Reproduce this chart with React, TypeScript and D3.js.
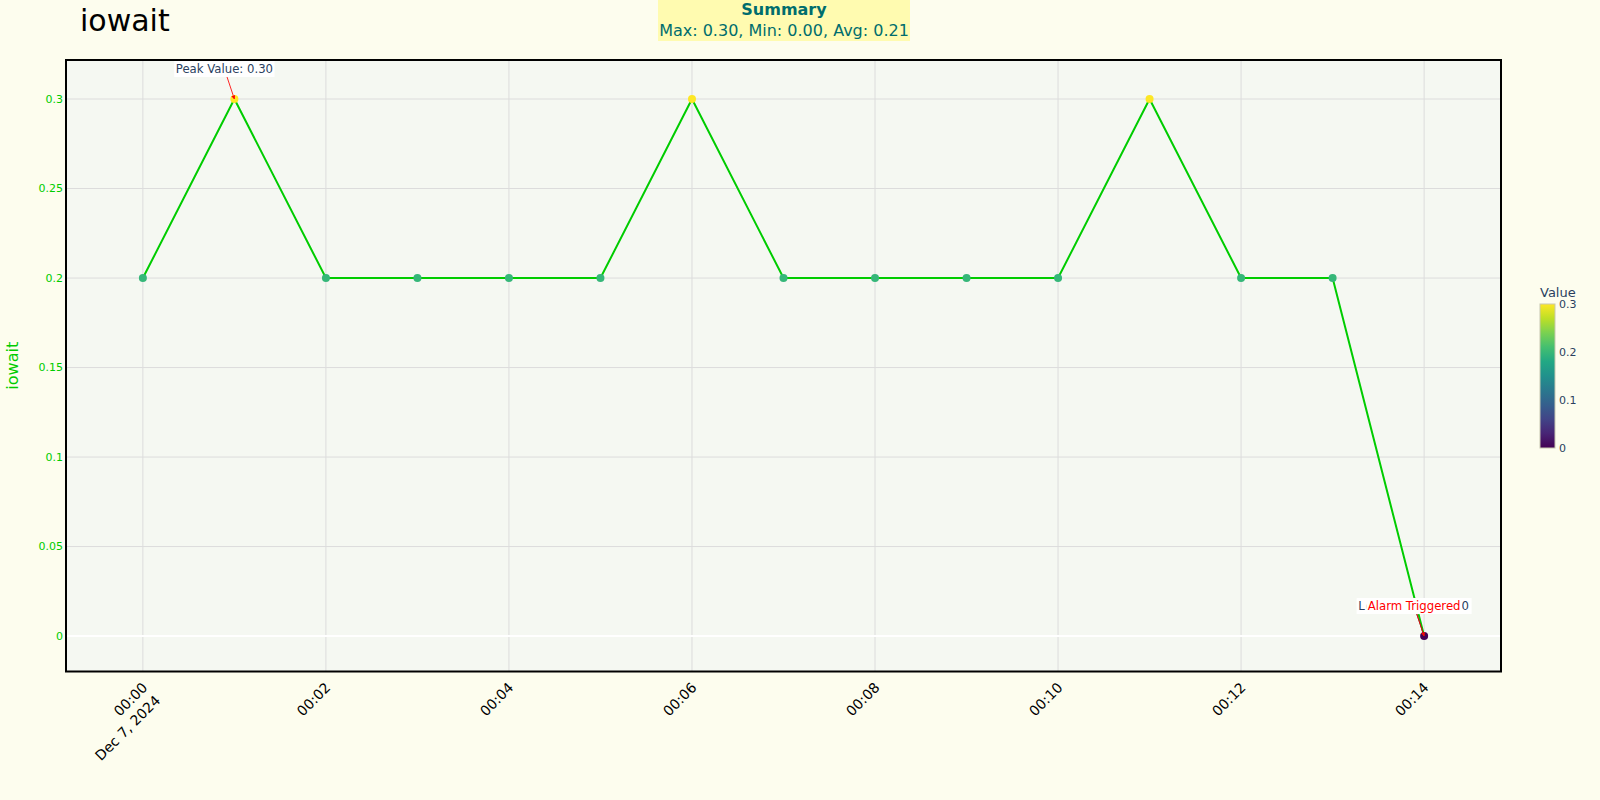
import { useEffect, useRef } from "react";
import * as d3 from "d3";

const width = 1600;
const height = 800;
const margin = { top: 60, right: 99, bottom: 128.5, left: 66 };

// one sample per minute starting Dec 7, 2024 00:00
const minutes = [0, 1, 2, 3, 4, 5, 6, 7, 8, 9, 10, 11, 12, 13, 14];
const values = [0.2, 0.3, 0.2, 0.2, 0.2, 0.2, 0.3, 0.2, 0.2, 0.2, 0.2, 0.3, 0.2, 0.2, 0.0];
const yTicks = [0, 0.05, 0.1, 0.15, 0.2, 0.25, 0.3];
const colorTicks = [0, 0.1, 0.2, 0.3];
const summaryLines = ["Summary", "Max: 0.30, Min: 0.00, Avg: 0.21"];

const start = new Date(2024, 11, 7, 0, 0, 0);
const font = "'DejaVu Sans', sans-serif";
const lineColor = "#00cc00";
const textDark = "#2a3f5f";

const App = () => {
  const ref = useRef<SVGSVGElement>(null);

  useEffect(() => {
    const svg = d3.select(ref.current);
    svg.selectAll("*").remove();

    const data = minutes.map((m, i) => ({ date: d3.timeMinute.offset(start, m), value: values[i] }));

    const x0 = margin.left;
    const x1 = width - margin.right;
    const y0 = margin.top;
    const y1 = height - margin.bottom;

    const xScale = d3
      .scaleTime()
      .domain([new Date(start.getTime() - 0.84 * 60000), new Date(start.getTime() + 14.84 * 60000)])
      .range([x0, x1]);
    const yScale = d3.scaleLinear().domain([-0.0198, 0.3218]).range([y1, y0]);
    const color = d3.scaleSequential(d3.interpolateViridis).domain([0, 0.3]);

    svg.append("rect").attr("width", width).attr("height", height).attr("fill", "#fdfdee");

    const defs = svg.append("defs");
    defs
      .append("clipPath")
      .attr("id", "plotClip")
      .append("rect")
      .attr("x", x0)
      .attr("y", y0)
      .attr("width", x1 - x0)
      .attr("height", y1 - y0);

    const grad = defs
      .append("linearGradient")
      .attr("id", "viridisGrad")
      .attr("x1", 0)
      .attr("y1", 1)
      .attr("x2", 0)
      .attr("y2", 0);
    d3.range(0, 1.0001, 0.1).forEach((t) => {
      grad.append("stop").attr("offset", t).attr("stop-color", d3.interpolateViridis(t));
    });

    ["red", "dark"].forEach((k) => {
      defs
        .append("marker")
        .attr("id", "arrow-" + k)
        .attr("viewBox", "0 0 10 10")
        .attr("refX", 9)
        .attr("refY", 5)
        .attr("markerWidth", 4)
        .attr("markerHeight", 4)
        .attr("orient", "auto")
        .append("path")
        .attr("d", "M0,0 L10,5 L0,10 z")
        .attr("fill", k === "red" ? "red" : "#444");
    });

    // plot background
    svg.append("rect").attr("x", x0).attr("y", y0).attr("width", x1 - x0).attr("height", y1 - y0).attr("fill", "#f5f8f2");

    const grid = svg.append("g").attr("clip-path", "url(#plotClip)");
    const xTicks = xScale.ticks(d3.timeMinute.every(2));
    grid
      .selectAll(".vg")
      .data(xTicks)
      .join("line")
      .attr("x1", (d) => xScale(d))
      .attr("x2", (d) => xScale(d))
      .attr("y1", y0)
      .attr("y2", y1)
      .attr("stroke", "#dcdcdc")
      .attr("stroke-width", 1);
    grid
      .selectAll(".hg")
      .data(yTicks.filter((d) => d !== 0))
      .join("line")
      .attr("x1", x0)
      .attr("x2", x1)
      .attr("y1", (d) => yScale(d))
      .attr("y2", (d) => yScale(d))
      .attr("stroke", "#dcdcdc")
      .attr("stroke-width", 1);
    grid
      .append("line")
      .attr("x1", x0)
      .attr("x2", x1)
      .attr("y1", yScale(0))
      .attr("y2", yScale(0))
      .attr("stroke", "#ffffff")
      .attr("stroke-width", 2);

    // line + markers
    const line = d3
      .line<{ date: Date; value: number }>()
      .x((d) => xScale(d.date))
      .y((d) => yScale(d.value));
    const plot = svg.append("g").attr("clip-path", "url(#plotClip)");
    plot.append("path").datum(data).attr("d", line).attr("fill", "none").attr("stroke", lineColor).attr("stroke-width", 2);
    plot
      .selectAll("circle")
      .data(data)
      .join("circle")
      .attr("cx", (d) => xScale(d.date))
      .attr("cy", (d) => yScale(d.value))
      .attr("r", 4)
      .attr("fill", (d) => color(d.value));

    // border
    svg
      .append("rect")
      .attr("x", x0)
      .attr("y", y0)
      .attr("width", x1 - x0)
      .attr("height", y1 - y0)
      .attr("fill", "none")
      .attr("stroke", "#000")
      .attr("stroke-width", 2);

    // y ticks
    svg
      .append("g")
      .selectAll("text")
      .data(yTicks)
      .join("text")
      .attr("x", x0 - 3)
      .attr("y", (d) => yScale(d))
      .attr("dy", "0.35em")
      .attr("text-anchor", "end")
      .attr("font-family", font)
      .attr("font-size", 11)
      .attr("fill", lineColor)
      .text((d) => d3.format("~g")(d));

    svg
      .append("text")
      .attr("transform", `translate(18, ${(y0 + y1) / 2}) rotate(-90)`)
      .attr("text-anchor", "middle")
      .attr("font-family", font)
      .attr("font-size", 16)
      .attr("fill", lineColor)
      .text("iowait");

    // x ticks
    const fmt = d3.timeFormat("%H:%M");
    const xt = svg
      .append("g")
      .selectAll("text")
      .data(xTicks)
      .join("text")
      .attr("transform", (d) => `translate(${xScale(d) + 2}, 685) rotate(-45)`)
      .attr("text-anchor", "end")
      .attr("font-family", font)
      .attr("font-size", 14)
      .attr("fill", "#000");
    xt.append("tspan").attr("x", 0).attr("dy", "0.35em").text((d) => fmt(d));
    xt.filter((d, i) => i === 0)
      .append("tspan")
      .attr("x", 0)
      .attr("dy", "1.3em")
      .text("Dec 7, 2024");

    // annotations
    const annotate = (
      d: { date: Date; value: number },
      label: string,
      fg: string,
      arrow: string,
      spacing: number
    ) => {
      const px = xScale(d.date);
      const py = yScale(d.value);
      const cx = px - 10;
      const cy = py - 30;
      const g = svg.append("g");
      const t = g
        .append("text")
        .attr("x", cx)
        .attr("y", cy)
        .attr("dy", "0.35em")
        .attr("text-anchor", "middle")
        .attr("font-family", font)
        .attr("font-size", 11.7)
        .attr("letter-spacing", spacing)
        .attr("fill", fg)
        .text(label);
      const bb = (t.node() as SVGTextElement).getBBox();
      g.insert("rect", "text")
        .attr("x", bb.x - 1.5)
        .attr("y", cy - 8)
        .attr("width", bb.width + 3)
        .attr("height", 16)
        .attr("fill", "#fff");
      const bottom = cy + 8;
      const frac = (bottom - cy) / (py - cy);
      svg
        .append("line")
        .attr("x1", cx + (px - cx) * frac)
        .attr("y1", bottom)
        .attr("x2", px)
        .attr("y2", py)
        .attr("stroke", arrow === "red" ? "red" : "#444")
        .attr("stroke-opacity", arrow === "red" ? 0.85 : 1)
        .attr("stroke-width", 1)
        .attr("marker-end", `url(#arrow-${arrow})`);
    };

    const maxV = d3.max(values) as number;
    const peak = data.find((d) => d.value === maxV)!;
    const low = data[data.length - 1];
    annotate(peak, `Peak Value: ${maxV.toFixed(2)}`, textDark, "red", 0);
    annotate(low, `Low Value: ${low.value.toFixed(2)}`, textDark, "dark", 1.3);
    annotate(low, "Alarm Triggered", "red", "red", 0);

    // title
    svg
      .append("text")
      .attr("x", 80)
      .attr("y", 31)
      .attr("font-family", font)
      .attr("font-size", 30)
      .attr("fill", "#000")
      .text("iowait");

    // summary box
    const sg = svg.append("g");
    sg.append("rect").attr("x", 658).attr("y", 0).attr("width", 252).attr("height", 41).attr("fill", "#fffbb0");
    sg.selectAll("text")
      .data(summaryLines)
      .join("text")
      .attr("x", 784)
      .attr("y", (d, i) => 15 + i * 21)
      .attr("text-anchor", "middle")
      .attr("font-family", font)
      .attr("font-size", 16)
      .attr("font-weight", (d, i) => (i === 0 ? "bold" : "normal"))
      .attr("fill", "#006d6d")
      .text((d) => d);

    // colorbar
    const cScale = d3.scaleLinear().domain([0, 0.3]).range([448, 304]);
    svg
      .append("rect")
      .attr("x", 1540)
      .attr("y", 304)
      .attr("width", 15)
      .attr("height", 144)
      .attr("fill", "url(#viridisGrad)")
      .attr("stroke", "#c8c8b0")
      .attr("stroke-width", 1);
    svg
      .append("g")
      .selectAll("text")
      .data(colorTicks)
      .join("text")
      .attr("x", 1559)
      .attr("y", (d) => cScale(d))
      .attr("dy", "0.35em")
      .attr("font-family", font)
      .attr("font-size", 11)
      .attr("fill", textDark)
      .text((d) => d3.format("~g")(d));
    svg
      .append("text")
      .attr("x", 1540)
      .attr("y", 297)
      .attr("font-family", font)
      .attr("font-size", 13)
      .attr("fill", textDark)
      .text("Value");
  }, []);

  return (
    <svg
      ref={ref}
      width={width}
      height={height}
      style={{ position: "absolute", left: 0, top: 0, display: "block" }}
    />
  );
};

export default App;
